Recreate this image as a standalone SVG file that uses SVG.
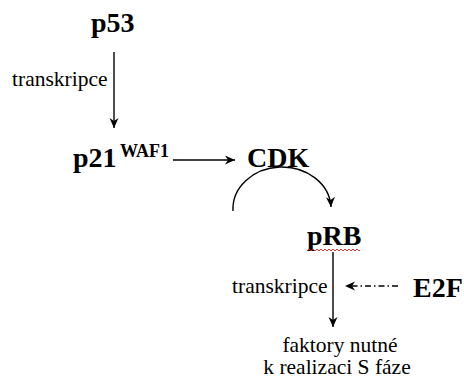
<svg xmlns="http://www.w3.org/2000/svg" width="464" height="378" viewBox="0 0 464 378">
<defs>
<marker id="ah" markerWidth="12" markerHeight="10" refX="10" refY="4.5" orient="auto" markerUnits="userSpaceOnUse">
<path d="M0,0 L10,4.5 L0,9 L3,4.5 z" fill="#000"/>
</marker>
</defs>
<rect width="464" height="378" fill="#fff"/>
<g id="connectors" fill="none" stroke="#000" stroke-width="1.4">
<line x1="114" y1="52" x2="114" y2="128" marker-end="url(#ah)"/>
<line x1="173" y1="160" x2="235" y2="160" marker-end="url(#ah)"/>
<path d="M233,211 A49 42 0 0 1 331,207" marker-end="url(#ah)"/>
<line x1="333" y1="252" x2="333" y2="327" marker-end="url(#ah)"/>
<line x1="398" y1="286" x2="345" y2="286" stroke-dasharray="6 3 1.5 3" marker-end="url(#ah)"/>
</g>
<g id="labels">
<text font-family="Liberation Serif" font-size="21.5" x="12" y="86">transkripce</text>
<text font-family="Liberation Serif" font-size="21.5" x="232" y="293">transkripce</text>
</g>
<g id="p53"><text font-family="Liberation Serif" font-size="28" font-weight="bold" x="91" y="32">p53</text></g>
<g id="p21"><text font-family="Liberation Serif" font-size="28" font-weight="bold" x="73" y="167">p21</text><text font-family="Liberation Serif" font-size="18" font-weight="bold" x="120" y="157">WAF1</text></g>
<g id="CDK"><text font-family="Liberation Serif" font-size="28" font-weight="bold" x="247" y="167">CDK</text></g>
<g id="pRB"><text font-family="Liberation Serif" font-size="28" font-weight="bold" x="307" y="245">pRB</text>
<path d="M307,251 l2,-2 l2,2 l2,-2 l2,2 l2,-2 l2,2 l2,-2 l2,2 l2,-2 l2,2 l2,-2 l2,2 l2,-2 l2,2 l2,-2 l2,2 l2,-2 l2,2 l2,-2 l2,2 l2,-2 l2,2 l2,-2 l2,2 l2,-2 l2,2 l1,-1" fill="none" stroke="#e02020" stroke-width="0.9"/></g>
<g id="E2F"><text font-family="Liberation Serif" font-size="28" font-weight="bold" x="413" y="297">E2F</text></g>
<g id="faktory"><text font-family="Liberation Serif" font-size="21.5" x="340" y="352" text-anchor="middle">faktory nutn&#233;</text><text font-family="Liberation Serif" font-size="21.5" x="337" y="374" text-anchor="middle">k realizaci S f&#225;ze</text></g>
</svg>
